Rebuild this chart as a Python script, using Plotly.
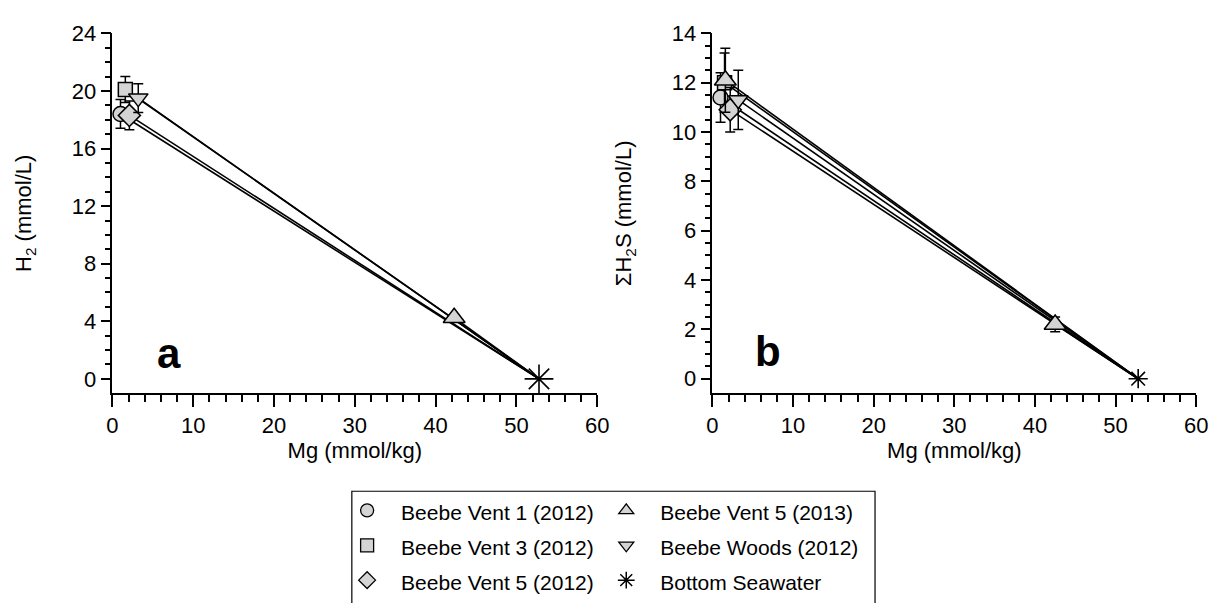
import numpy as np
import plotly.graph_objects as go

# ---------------- data ----------------
names = ["Beebe Vent 1 (2012)", "Beebe Vent 3 (2012)", "Beebe Vent 5 (2012)",
         "Beebe Vent 5 (2013)", "Beebe Woods (2012)"]
symbols = ["circle", "square", "diamond", "triangle-up", "triangle-down"]
sizes = [15, 14, 17, 19, 17]

# panel a: H2 (mmol/L) vs Mg (mmol/kg)
h2_mg = [[1.0], [1.6], [2.1], [42.3], [3.2]]
h2_val = [[18.4], [20.1], [18.3], [4.25], [19.5]]
h2_err = [[1.0], [0.9], [1.0], [0.2], [1.0]]

# panel b: sum H2S (mmol/L) vs Mg (mmol/kg)
h2s_mg = [[1.0], [1.5], [2.2], [1.6, 42.5], [3.2]]
h2s_val = [[11.4], [12.0], [10.9], [12.1, 2.2], [11.3]]
h2s_err = [[1.0], [1.2], [0.9], [1.3, 0.3], [1.2]]

sw_name = "Bottom Seawater"
sw_mg = 52.8
sw_h2 = 0.0
sw_h2s = 0.0

FONT = "Liberation Sans, Arial, Helvetica, sans-serif"
FILL = "#d4d4d4"
TICKSIZE = 22
LEGSIZE = 21

fig = go.Figure()

def add_panel(xs, ys, errs, sw_y, xa, ya, ast_size):
    for i in range(len(names)):
        for x0, y0 in zip(xs[i], ys[i]):
            fig.add_trace(go.Scatter(x=[x0, sw_mg], y=[y0, sw_y], mode="lines",
                                     line=dict(color="black", width=1.6),
                                     xaxis=xa, yaxis=ya, showlegend=False,
                                     hoverinfo="skip"))
    for i in range(len(names)):
        fig.add_trace(go.Scatter(
            x=xs[i], y=ys[i], mode="markers", name=names[i],
            marker=dict(symbol=symbols[i], size=sizes[i], color=FILL,
                        line=dict(color="black", width=1.5)),
            error_y=dict(type="data", array=errs[i], color="black",
                         thickness=1.5, width=5),
            xaxis=xa, yaxis=ya, showlegend=False, cliponaxis=False))
    fig.add_trace(go.Scatter(
        x=[sw_mg], y=[sw_y], mode="markers", name=sw_name,
        marker=dict(symbol="asterisk-open", size=ast_size, color="black",
                    line=dict(color="black", width=1.6)),
        xaxis=xa, yaxis=ya, showlegend=False, cliponaxis=False))

add_panel(h2_mg, h2_val, h2_err, sw_h2, "x", "y", 24)
add_panel(h2s_mg, h2s_val, h2s_err, sw_h2s, "x2", "y2", 16)

# legend entries: two columns -> two vertical legends
def leg_label(s):
    return "<span style='font-size:%dpx'>%s</span>" % (LEGSIZE, s)

leg_cols = [[0, 1, 2], [3, 4, 5]]
for col, keys in enumerate(leg_cols):
    lg = "legend" if col == 0 else "legend2"
    for k in keys:
        if k < 5:
            fig.add_trace(go.Scatter(
                x=[None], y=[None], mode="markers", name=leg_label(names[k]),
                legend=lg,
                marker=dict(symbol=symbols[k], size=13, color=FILL,
                            line=dict(color="black", width=1.3))))
        else:
            fig.add_trace(go.Scatter(
                x=[None], y=[None], mode="markers", name=leg_label(sw_name),
                legend=lg,
                marker=dict(symbol="asterisk-open", size=14, color="black",
                            line=dict(color="black", width=1.5))))

W, H = 1224, 603
def px(v):
    return v / W
def py(v):
    return 1 - v / H

ydom = [py(393), py(22)]

common_x = dict(range=[0, 60], showline=True, linecolor="black", linewidth=1.5,
                ticks="outside", ticklen=12, tickwidth=1.5, tickcolor="black",
                tick0=0, dtick=10, showgrid=False, zeroline=False,
                minor=dict(ticks="outside", ticklen=7, tickwidth=1.5,
                           tickcolor="black", dtick=2, showgrid=False),
                tickfont=dict(size=TICKSIZE, family=FONT, color="black"),
                title=dict(text="Mg (mmol/kg)", standoff=4,
                           font=dict(size=TICKSIZE, family=FONT, color="black")))

def common_y(rng, dt, mdt, title):
    top = rng[1]
    return dict(range=rng, domain=ydom, showline=True, linecolor="black",
                linewidth=1.5, ticks="outside", ticklen=10, tickwidth=1.5,
                tickcolor="black", tick0=0, dtick=dt, showgrid=False,
                zeroline=False,
                minor=dict(ticks="outside", ticklen=6, tickwidth=1.5,
                           tickcolor="black", tickmode="array",
                           tickvals=list(np.arange(0, top + 1e-9, mdt)),
                           showgrid=False),
                tickfont=dict(size=TICKSIZE, family=FONT, color="black"),
                title=dict(text=title, standoff=34,
                           font=dict(size=TICKSIZE, family=FONT, color="black")))

legend_common = dict(orientation="v", xanchor="left", yanchor="top",
                     itemwidth=58, y=py(491), traceorder="normal",
                     font=dict(size=24.5, family=FONT, color="black"),
                     bgcolor="rgba(0,0,0,0)", borderwidth=0)

fig.update_layout(
    width=W, height=H,
    margin=dict(l=0, r=0, t=0, b=0),
    paper_bgcolor="white", plot_bgcolor="white",
    font=dict(family=FONT, color="black", size=TICKSIZE),
    xaxis=dict(domain=[px(108), px(600)], anchor="y", **common_x),
    yaxis=dict(anchor="x", **common_y([-1.0, 24], 4, 1, "H<sub>2</sub> (mmol/L)")),
    xaxis2=dict(domain=[px(717), px(1208)], anchor="y2", **common_x),
    yaxis2=dict(anchor="x2", **common_y([-0.59, 14], 2, 0.5,
                                        "ΣH<sub>2</sub>S (mmol/L)")),
    showlegend=True,
    legend=dict(x=px(332), **legend_common),
    legend2=dict(x=px(595), **legend_common),
    shapes=[dict(type="rect", xref="paper", yref="paper",
                 x0=px(351), x1=px(882), y0=py(612), y1=py(494),
                 line=dict(color="black", width=1.2))],
    annotations=[
        dict(text="<b>a</b>", x=px(165), y=py(352), xref="paper", yref="paper",
             xanchor="center", yanchor="middle", showarrow=False,
             font=dict(size=42, family=FONT, color="black")),
        dict(text="<b>b</b>", x=px(773), y=py(350), xref="paper", yref="paper",
             xanchor="center", yanchor="middle", showarrow=False,
             font=dict(size=42, family=FONT, color="black")),
    ],
)

fig.write_html("out.html")
